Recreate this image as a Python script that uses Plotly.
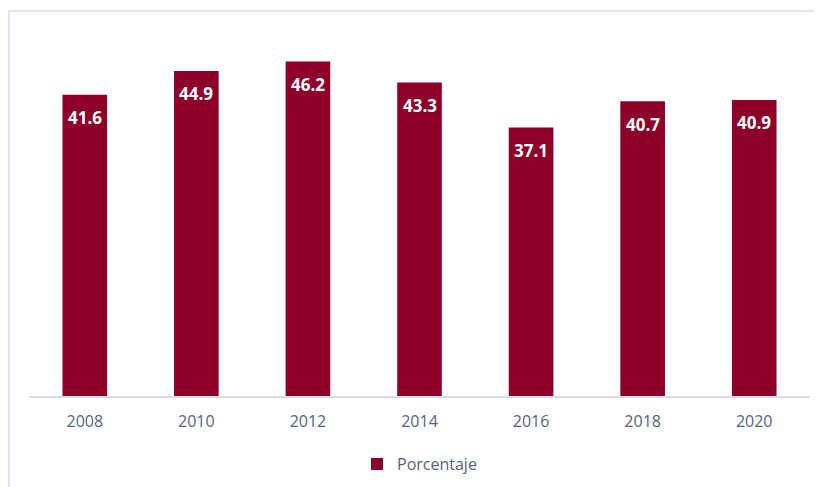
import plotly.graph_objects as go

years = ["2008", "2010", "2012", "2014", "2016", "2018", "2020"]
values = [41.6, 44.9, 46.2, 43.3, 37.1, 40.7, 40.9]
series_name = "Porcentaje"

BAR = "#8C0029"
TXT = "#56647A"
W, H = 822, 487
# page is offset by the 8px body margin
L, R, T, B = 21, 20, 26, 99
pw, ph = W - L - R, H - T - B

fig = go.Figure()
fig.add_trace(go.Bar(x=years, y=values, name=series_name, marker_color=BAR,
                     marker_line_width=0, hoverinfo="x+y"))

for i, v in enumerate(values):
    fig.add_annotation(x=i, y=v, text=f"<b>{v:.1f}</b>", showarrow=False,
                       yshift=-23, font=dict(color="white", size=17, family="Open Sans"))

# outer chart border (top and left visible)
x0 = (1 - L) / pw
y1 = (H - B - 3) / ph
fig.add_shape(type="rect", xref="paper", yref="paper", x0=x0, x1=1.05, y0=-0.4, y1=y1,
              line=dict(color="#D9DEE6", width=1.5), fillcolor="rgba(0,0,0,0)", layer="below")

fig.update_layout(
    width=W, height=H,
    margin=dict(l=L, r=R, t=T, b=B, autoexpand=False),
    paper_bgcolor="white", plot_bgcolor="white",
    bargap=0.6,
    showlegend=True,
    legend=dict(orientation="h", x=0.5, xanchor="center", y=-0.188, yanchor="middle",
                font=dict(size=16, color=TXT, family="Open Sans"), itemwidth=30),
    xaxis=dict(type="category", range=[-0.5, len(years) - 0.5], showline=True,
               linecolor="#D9DEE6", linewidth=1.5, ticks="", ticklabelstandoff=10,
               tickfont=dict(size=16, color=TXT, family="Open Sans"), showgrid=False),
    yaxis=dict(range=[0, 50], visible=False, showgrid=False),
)
fig.write_html("out.html")
